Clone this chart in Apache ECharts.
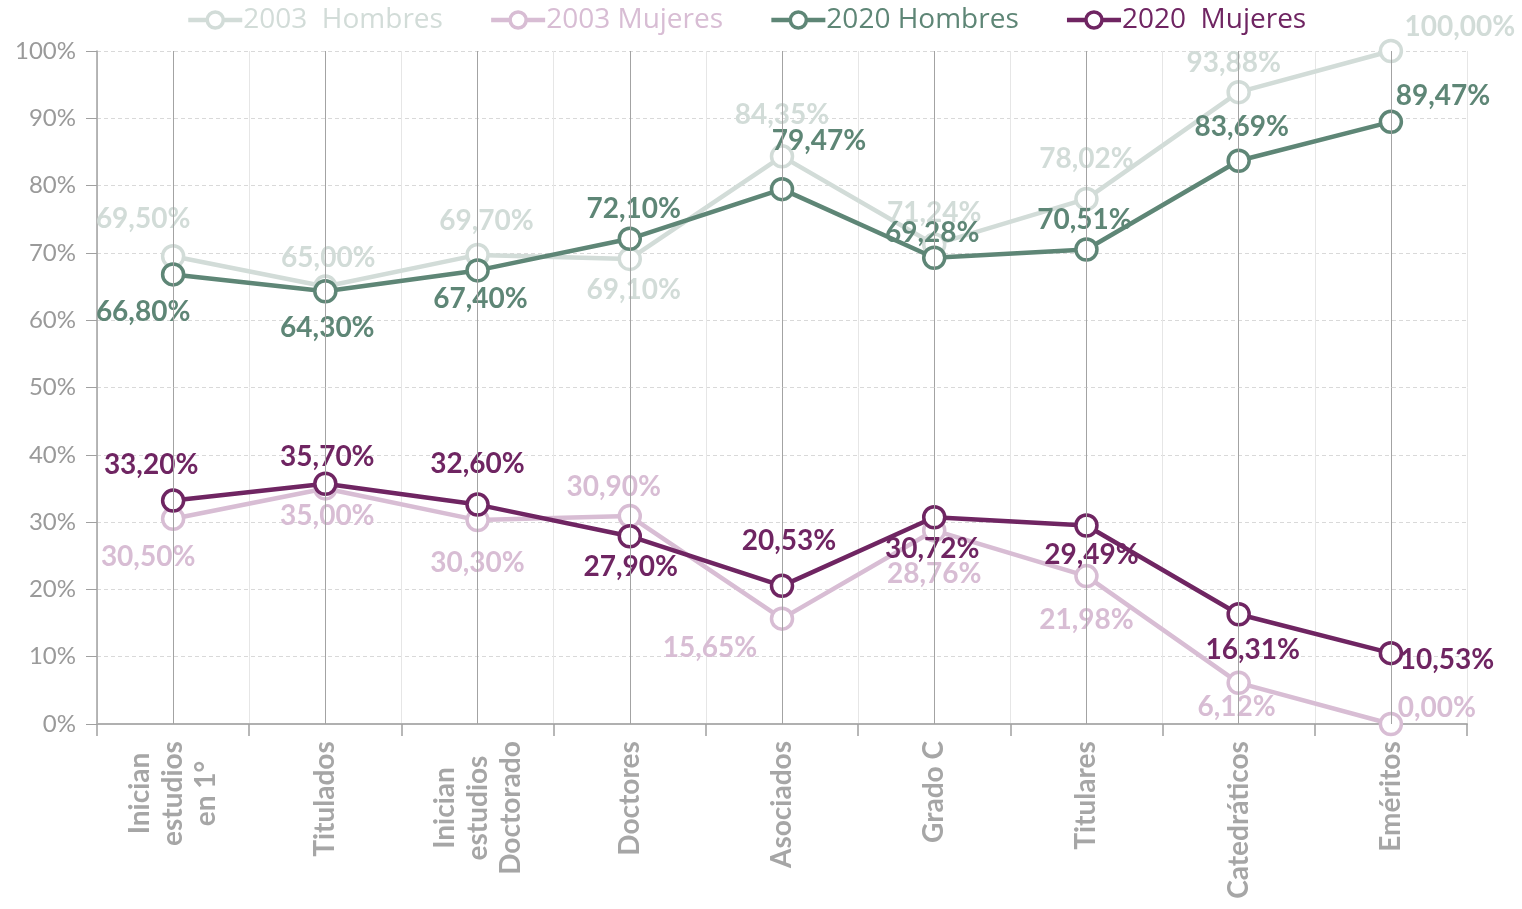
<!DOCTYPE html>
<html><head><meta charset="utf-8">
<script src="https://cdn.jsdelivr.net/npm/echarts@6/dist/echarts.min.js"></script>
<style>html,body{margin:0;padding:0;background:#fff}#c{width:1522px;height:909px}</style>
</head><body><div id="c"></div>
<script>
const categories = ['Inician\nestudios\nen 1°','Titulados','Inician\nestudios\nDoctorado','Doctores','Asociados','Grado C','Titulares','Catedráticos','Eméritos'];
const seriesNames = ['2003  Hombres','2003 Mujeres','2020 Hombres','2020  Mujeres'];
const hombres2003 = [69.50, 65.00, 69.70, 69.10, 84.35, 71.24, 78.02, 93.88, 100.00];
const mujeres2003 = [30.50, 35.00, 30.30, 30.90, 15.65, 28.76, 21.98, 6.12, 0.00];
const hombres2020 = [66.80, 64.30, 67.40, 72.10, 79.47, 69.28, 70.51, 83.69, 89.47];
const mujeres2020 = [33.20, 35.70, 32.60, 27.90, 20.53, 30.72, 29.49, 16.31, 10.53];
const yTicks = [0,10,20,30,40,50,60,70,80,90,100];

// label offsets (style only)
const offH03 = [[-30,-37],[3,-29],[9,-34],[4,31],[0,-41],[0,-32],[0,-40],[-5,-29],[69,-24]];
const offM03 = [[-25,38],[2,28],[0,43],[-16,-29],[-72,29],[0,44],[0,44],[-2,24],[46,-16]];
const offH20 = [[-30,38],[2,37],[3,29],[4,-30],[37,-48],[-2,-25],[-2,-29],[3,-34],[52,-26]];
const offM20 = [[-22,-36],[2,-27],[0,-41],[1,31],[7,-45],[-2,32],[5,29],[14,36],[56,7]];

const colors = ['#d2dcd8','#d8bdd4','#5e8676','#6f2562'];
const fmt = v => v.toFixed(2).replace('.', ',') + '%';
const FONT = 'Lato';
const XFS = 28;

// measure multi-line label widths so lines can be centred
const cv = document.createElement('canvas').getContext('2d');
cv.font = 'bold ' + XFS + 'px ' + FONT;
const rich = {};
categories.forEach((c, i) => {
  const w = Math.max(...c.split('\n').map(s => cv.measureText(s).width));
  rich['c' + i] = {align: 'center', width: Math.ceil(w), fontFamily: FONT, fontWeight: 'bold', fontSize: XFS, lineHeight: 33, color: '#a6a6a6'};
});

function mk(name, vals, offs, color, z) {
  return {
    name, type: 'line', data: vals.map((v,i)=>({value:v, label:{offset:offs[i]}})),
    symbol: 'circle', symbolSize: 21, z,
    lineStyle: {color, width: 4.5},
    itemStyle: {color: '#fff', borderColor: color, borderWidth: 3.5},
    label: {show: true, position: 'inside', color, fontFamily: FONT, fontWeight: 'bold', fontSize: 28,
      formatter: p => fmt(p.value)},
    emphasis: {disabled: true}, animation: false
  };
}

const chart = echarts.init(document.getElementById('c'));
chart.setOption({
  backgroundColor: '#fff',
  animation: false,
  legend: {
    top: 1, left: 181, itemGap: 46, itemWidth: 54, itemHeight: 20,
    data: seriesNames.map((n,i)=>({name:n, textStyle:{color: colors[i]}})),
    lineStyle: {width: 4.5},
    itemStyle: {borderWidth: 3.5},
    textStyle: {fontFamily: 'Open Sans', fontSize: 28, padding:[0,0,0,-4]}
  },
  grid: {left: 97, right: 55, top: 51, bottom: 185, containLabel: false},
  xAxis: {
    type: 'category', data: categories, boundaryGap: true,
    axisLine: {lineStyle: {color: '#b0b0b0', width: 2}},
    axisTick: {show: true, length: 12, lineStyle: {color: '#a0a0a0', width: 1.5}},
    splitLine: {show: true, lineStyle: {color: '#e6e6e6', width: 1}},
    axisLabel: {
      rotate: 90, margin: 17, interval: 0, color: '#a6a6a6',
      fontFamily: FONT, fontWeight: 'bold', fontSize: XFS, lineHeight: 33,
      formatter: (v) => {
        const i = categories.indexOf(v);
        return v.split('\n').map(s => '{c' + i + '|' + s + '}').join('\n');
      },
      rich
    }
  },
  yAxis: {
    type: 'value', min: yTicks[0], max: yTicks[yTicks.length-1], interval: 10,
    axisLine: {show: true, lineStyle: {color: '#a0a0a0', width: 1.5}},
    axisTick: {show: true, length: 11, lineStyle: {color: '#a0a0a0'}},
    splitLine: {show: true, lineStyle: {color: '#d9d9d9', type: [4,3], width: 1}},
    axisLabel: {color: '#9a9a9a', fontFamily: FONT, fontSize: 24, margin: 21, formatter: '{value}%'}
  },
  series: [
    {type: 'line', data: [], z: 1, silent: true,
     markLine: {silent: true, symbol: 'none', label: {show: false}, animation: false,
       lineStyle: {color: '#a3a3a3', type: 'solid', width: 1},
       data: categories.map(c => ({xAxis: c}))}},
    mk(seriesNames[0], hombres2003, offH03, colors[0], 3),
    mk(seriesNames[1], mujeres2003, offM03, colors[1], 3),
    mk(seriesNames[2], hombres2020, offH20, colors[2], 4),
    mk(seriesNames[3], mujeres2020, offM20, colors[3], 4)
  ]
});
</script></body></html>
